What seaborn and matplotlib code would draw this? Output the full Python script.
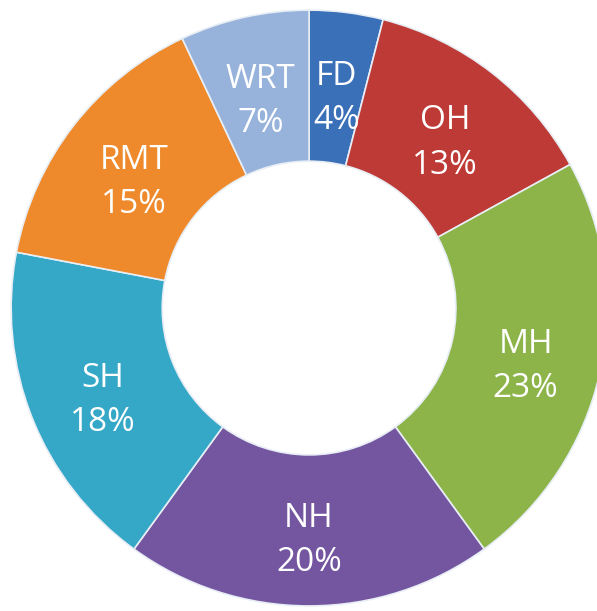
import matplotlib
matplotlib.use("Agg")
import matplotlib.pyplot as plt
import seaborn as sns

# datos del gráfico de dona
categorias = ["FD", "OH", "MH", "NH", "SH", "RMT", "WRT"]
porcentajes = [4, 13, 23, 20, 18, 15, 7]
colores = ["#3A70B8", "#BE3A36", "#8CB449", "#7455A0", "#35A7C7", "#EE8A2B", "#97B3DB"]

sns.set_theme(style="white")
plt.rcParams['font.family'] = ['Open Sans', 'DejaVu Sans']

fig = plt.figure(figsize=(5.97, 6.11), dpi=100)
ax = fig.add_axes([0, 0, 1, 1])

etiquetas = [f"{c}\n{p}%" for c, p in zip(categorias, porcentajes)]
cunas, textos = ax.pie(
    porcentajes,
    labels=etiquetas,
    colors=sns.color_palette(colores),
    startangle=90,
    counterclock=False,
    radius=1.0,
    labeldistance=0.745,
    wedgeprops=dict(width=0.507, edgecolor="#e8eef5", linewidth=1.2),
    textprops=dict(color="white", fontsize=24, linespacing=1.45),
)
# las etiquetas van centradas y un poco más abajo, como en el original
for t in textos:
    t.set_horizontalalignment("center")
    t.set_verticalalignment("center")
    x, y = t.get_position()
    t.set_position((x, y - 0.035))

ax.set_xlim(-1.037, 0.966)
ax.set_ylim(-1.017, 1.034)
ax.set_aspect("equal")
ax.axis("off")

fig.savefig("out.png", dpi=100, facecolor="white")
